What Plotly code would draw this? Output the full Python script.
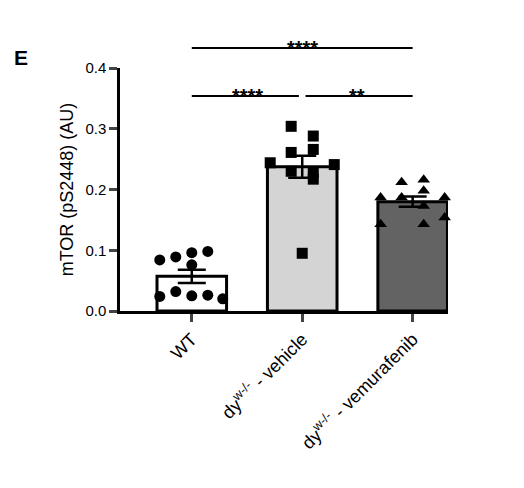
import numpy as np
import plotly.graph_objects as go

categories = ["WT", "dy<sup>w-/-</sup> - vehicle", "dy<sup>w-/-</sup> - vemurafenib"]
wt = [0.084, 0.089, 0.096, 0.098, 0.076, 0.032, 0.024, 0.025, 0.026, 0.020]
vehicle = [0.304, 0.288, 0.261, 0.266, 0.244, 0.241, 0.230, 0.228, 0.217, 0.095]
vemu = [0.212, 0.216, 0.198, 0.187, 0.187, 0.187, 0.173, 0.154, 0.143, 0.143]
wt_off = [-0.29, -0.145, 0.0, 0.145, 0.0, -0.145, -0.29, 0.0, 0.145, 0.28]
veh_off = [-0.1, 0.1, -0.1, 0.1, -0.29, 0.29, -0.1, 0.1, 0.1, 0.0]
vem_off = [-0.1, 0.1, 0.1, -0.1, -0.29, 0.29, 0.1, 0.29, 0.1, -0.29]
fills = ["white", "#d4d4d4", "#636363"]
symbols = ["circle", "square", "triangle-up"]
groups = [wt, vehicle, vemu]
offs = [wt_off, veh_off, vem_off]
YMAX = 0.4

fig = go.Figure()
means = [float(np.mean(g)) for g in groups]
sems = [float(np.std(g, ddof=1) / np.sqrt(len(g))) for g in groups]
fig.add_trace(go.Bar(x=[0, 1, 2], y=means, width=0.63, marker=dict(color=fills, line=dict(color="black", width=3)),
                     error_y=dict(type="data", array=sems, color="black", thickness=2.5, width=14)))
for i, (g, o) in enumerate(zip(groups, offs)):
    fig.add_trace(go.Scatter(x=[i + d for d in o], y=g, mode="markers", cliponaxis=False,
                             marker=dict(symbol=symbols[i], color="black", size=11)))

for x0, x1, y in [(0, 2, 0.433), (0, 0.97, 0.354), (1.03, 2, 0.354)]:
    fig.add_shape(type="line", xref="x", yref="paper", x0=x0, x1=x1, y0=y / YMAX, y1=y / YMAX,
                  line=dict(color="black", width=2))
for x, y, t in [(1, 0.433, "****"), (0.5, 0.354, "****"), (1.5, 0.354, "**")]:
    fig.add_annotation(x=x, yref="paper", y=y / YMAX, text="<b>" + t + "</b>", showarrow=False, yshift=13,
                       font=dict(size=20, color="black"))
fig.add_annotation(xref="paper", yref="paper", x=-0.33, y=1.1, text="<b>E</b>", showarrow=False,
                   font=dict(size=21, color="black"))

fig.update_layout(width=524, height=488, margin=dict(l=112, r=84, t=60, b=185), showlegend=False,
                  plot_bgcolor="white", paper_bgcolor="white",
                  font=dict(family="Liberation Sans, Arial", color="black", size=17))
fig.update_xaxes(range=[-0.65, 2.32], tickvals=[0, 1, 2], ticktext=categories, tickangle=-45, automargin=False,
                 showline=True, linecolor="black", linewidth=2.5, ticks="outside", ticklen=8, tickwidth=2.5,
                 showgrid=False, zeroline=False, tickfont=dict(size=18))
fig.update_yaxes(range=[0, YMAX], dtick=0.1, tickformat=".1f", automargin=False,
                 title=dict(text="mTOR (pS2448) (AU)", font=dict(size=18), standoff=8),
                 showline=True, linecolor="black", linewidth=2.5, ticks="outside", ticklen=8, tickwidth=2.5,
                 showgrid=False, zeroline=False, tickfont=dict(size=15, family="Liberation Sans, Arial"))
fig.write_html("out.html")
